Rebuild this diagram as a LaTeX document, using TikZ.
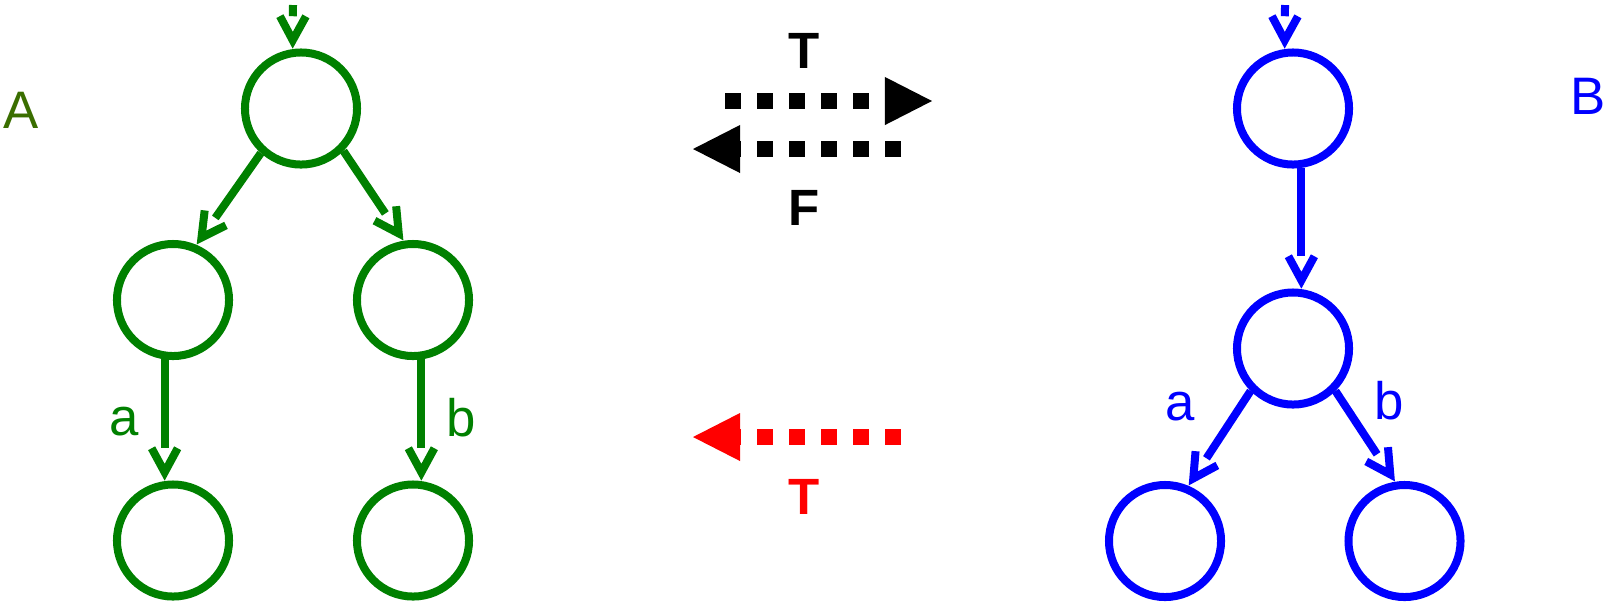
\documentclass[tikz,border=0pt]{standalone}
\usepackage{fontspec}
\setmainfont{Liberation Sans}
\usetikzlibrary{arrows.meta}
\definecolor{leafgreen}{HTML}{008000}
\definecolor{darkolive}{HTML}{3A6E00}
\definecolor{pureblue}{HTML}{0000FF}
\definecolor{purered}{HTML}{FF0000}

% open V head, the shaft stops at its back
\pgfdeclarearrow{
  name = OpenVee,
  parameters = {\the\pgfarrowlength,\the\pgfarrowwidth},
  setup code = {
    \pgfarrowssettipend{1.1\pgflinewidth}
    \pgfarrowssetlineend{-\pgfarrowlength}
    \pgfarrowssetbackend{-\pgfarrowlength}
    \pgfarrowssetvisualbackend{-\pgfarrowlength}
    \pgfarrowshullpoint{1.1\pgflinewidth}{0pt}
    \pgfarrowsupperhullpoint{-\pgfarrowlength}{.5\pgfarrowwidth}
    \pgfarrowssavethe\pgfarrowlength
    \pgfarrowssavethe\pgfarrowwidth
  },
  drawing code = {
    \pgfsetmiterjoin
    \pgfsetbuttcap
    \pgfsetdash{}{0pt}
    \pgfpathmoveto{\pgfpoint{-\pgfarrowlength}{.5\pgfarrowwidth}}
    \pgfpathlineto{\pgfpoint{0pt}{0pt}}
    \pgfpathlineto{\pgfpoint{-\pgfarrowlength}{-.5\pgfarrowwidth}}
    \pgfusepathqstroke
  },
  defaults = {length=2.4mm, width=2.6mm}
}

\tikzset{
  state/.style={circle,draw,line width=0.08cm,minimum size=1.12cm,inner sep=0pt},
  link/.style={line width=0.08cm,-{OpenVee[length=2.4mm,width=2.6mm]}},
  lbl/.style={font=\fontsize{15}{18}\selectfont,inner sep=0pt},
  flag/.style={font=\fontsize{14.5}{17}\selectfont\bfseries,inner sep=0pt},
  dotarrow/.style={line width=0.16cm,dash pattern=on 0.16cm off 0.16cm,
    -{Triangle[length=0.47cm,width=0.48cm,line width=0pt]}}
}

\begin{document}
\begin{tikzpicture}[x=0.01cm,y=-0.01cm]
  \useasboundingbox (0,0) rectangle (1607,602);
  % tree A
  \node[lbl,darkolive] (nameA) at (21,110) {A};
  \node[state,leafgreen] (gR) at (301,108.5) {};
  \node[state,leafgreen] (gL) at (173,300) {};
  \node[state,leafgreen] (gRt) at (413,300) {};
  \node[state,leafgreen] (gLL) at (173,540.5) {};
  \node[state,leafgreen] (gRR) at (413,540.5) {};
  \coordinate (gIn) at (293,5);
  \begin{scope}[leafgreen]
    \draw[link] (gIn) -- (gR.98);
    \draw[link] (gR.-132) -- (gL.67);
    \draw[link] (gR.-45) -- (gRt.99);
    \draw[link] (gL.-98) -- (gLL.98);
    \draw[link] (gRt.-82) -- (gRR.82);
  \end{scope}
  \node[lbl,leafgreen] (ga) at (124,422) {a};
  \node[lbl,leafgreen] (gb) at (461,417.5) {b};
  % tree B
  \node[lbl,pureblue] (nameB) at (1588,96) {B};
  \node[state,pureblue] (bR) at (1293,108.5) {};
  \node[state,pureblue] (bM) at (1293,348.5) {};
  \node[state,pureblue] (bL) at (1165,541) {};
  \node[state,pureblue] (bRt) at (1404.5,541) {};
  \coordinate (bIn) at (1285,5);
  \begin{scope}[pureblue]
    \draw[link] (bIn) -- (bR.98);
    \draw[link] (bR.-82) -- (bM.82);
    \draw[link] (bM.-135) -- (bL.67);
    \draw[link] (bM.-45) -- (bRt.99);
  \end{scope}
  \node[lbl,pureblue] (ba) at (1180,407) {a};
  \node[lbl,pureblue] (bb) at (1389,401) {b};
  % transformations between the trees
  \coordinate (tFrom) at (725,101);
  \coordinate (tTo) at (932,101);
  \coordinate (fFrom) at (901,149);
  \coordinate (fTo) at (693,149);
  \coordinate (rFrom) at (901,437);
  \coordinate (rTo) at (693,437);
  \draw[dotarrow] (tFrom) -- (tTo);
  \draw[dotarrow] (fFrom) -- (fTo);
  \draw[dotarrow,purered] (rFrom) -- (rTo);
  \node[flag] (tTop) at (804,51) {T};
  \node[flag] (fMid) at (804,208) {F};
  \node[flag,purered] (tLow) at (804,497) {T};
\end{tikzpicture}
\end{document}
